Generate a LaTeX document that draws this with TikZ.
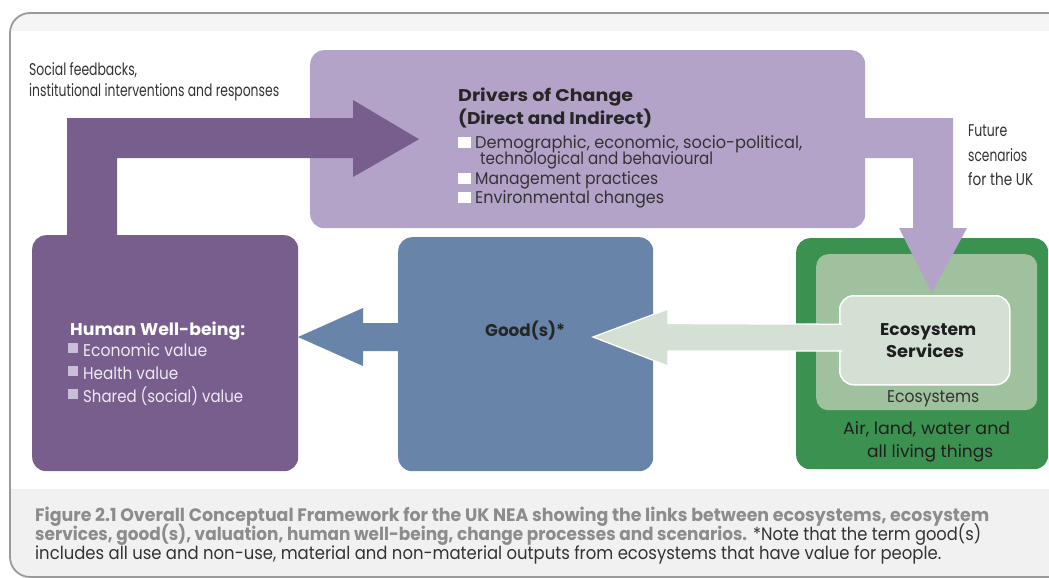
\documentclass[tikz,border=0pt]{standalone}
\usepackage{fontspec}
\setmainfont{Poppins}
\usepackage{graphicx}
\usetikzlibrary{calc}
\newcommand{\fw}[2]{\resizebox{#1pt}{\height}{#2}}
\definecolor{dpurple}{HTML}{775E8D}
\definecolor{lpurple}{HTML}{B4A3C9}
\definecolor{gblue}{HTML}{6884A9}
\definecolor{dgreen}{HTML}{3B9150}
\definecolor{mgreen}{HTML}{9FC19D}
\definecolor{pgreen}{HTML}{D4E0D4}
\definecolor{capbg}{HTML}{F1F1F1}
\definecolor{topband}{HTML}{F5F5F5}
\definecolor{framec}{HTML}{9A9A9A}
\definecolor{capgray}{HTML}{8C8C8C}
\definecolor{txtc}{HTML}{333333}
\definecolor{hwbtxt}{HTML}{EEEAF2}
\definecolor{hwbsq}{HTML}{C9BDD7}
\tikzset{
  box/.style={rounded corners=14, inner sep=0, anchor=north west, draw=none},
  t/.style={inner sep=0, anchor=base west, text=txtc, font=\fontsize{17}{20}\selectfont},
  captxt/.style={inner sep=0, anchor=base west, font=\fontsize{18}{20}\selectfont},
  wsq/.style={fill=white},
  lsq/.style={fill=hwbsq}
}
\begin{document}
\begin{tikzpicture}[x=1pt,y=-1pt]
\useasboundingbox (0,0) rectangle (1049,578);
\fill[white] (0,0) rectangle (1049,578);
% frame
\begin{scope}
\clip[rounded corners=20] (10,13) rectangle (1068,577);
\fill[topband] (10,13) rectangle (1068,31);
\fill[capbg] (10,489) rectangle (1068,577);
\end{scope}
\draw[framec, line width=1.8, rounded corners=20] (10,13) rectangle (1068,577);

% boxes
\node[box, fill=lpurple, minimum width=555, minimum height=178] (drv) at (310,50) {};
\node[box, fill=dpurple, minimum width=266, minimum height=236] (hwb) at (32,235) {};
\node[box, fill=gblue, minimum width=255, minimum height=234] (goods) at (398,237) {};
\node[box, fill=dgreen, minimum width=252, minimum height=231] (eco) at (796,238) {};
\node[box, fill=mgreen, minimum width=221, minimum height=156, rounded corners=12] (ecoin) at (816,254) {};
\node[box, fill=pgreen, draw=white, line width=1.5, minimum width=170, minimum height=89, rounded corners=14] (es) at (839,295) {};

% feedback arrow
\coordinate (fb0) at ($(hwb.north west)+(35,2)$);
\coordinate (fbtip) at ($(drv.west)+(109,0)$);
\fill[dpurple] (fb0) -- (67,118) -- (353,118) -- (353,100) -- (fbtip) -- (353,177) -- (353,158) -- (117,158) -- (117,237) -- cycle;

% future scenarios arrow
\coordinate (fs0) at ($(drv.north east)+(-6,68)$);
\coordinate (fstip) at ($(es.north)+(7,-2)$);
\fill[lpurple] (fs0) -- (953,118) -- (953,228) -- (967,228) -- (fstip) -- (899,228) -- (913,228) -- (913,158) -- (859,158) -- cycle;

% ecosystem services -> goods arrow
\coordinate (g0) at ($(es.west)+(3,-16)$);
\coordinate (gtip) at (593,337);
\fill[pgreen] (g0) -- (668,323.5) -- (668,309) -- (gtip) -- (668,366) -- (668,351) -- (842,351) -- cycle;
\draw[white, line width=1.3, line join=miter] (g0) -- (668,323.5) -- (668,309) -- (gtip) -- (668,366) -- (668,351) -- (842,351);

% goods -> human well-being arrow
\coordinate (b0) at ($(goods.west)+(2,-31)$);
\coordinate (btip) at (298,337);
\fill[gblue] (b0) -- (363,323) -- (363,308) -- (btip) -- (363,366) -- (363,351) -- (400,351) -- cycle;

% texts: social feedbacks
\node[t] (sf1) at (29,75) {\fw{108}{Social feedbacks,}};
\node[t] (sf2) at (29,96) {\fw{250}{institutional interventions and responses}};

% drivers
\node[t, text=black!85, font=\fontsize{17}{20}\selectfont\bfseries] (d1) at (458,101) {\fw{175}{Drivers of Change}};
\node[t, text=black!85, font=\fontsize{17}{20}\selectfont\bfseries] (d2) at (458,124) {\fw{194}{(Direct and Indirect)}};
\fill[wsq] (458,137) rectangle (471,148);
\node[t] (d3) at (475,148) {\fw{327}{Demographic, economic, socio-political,}};
\node[t] (d4) at (480,164) {\fw{233}{technological and behavioural}};
\fill[wsq] (458,173) rectangle (471,184);
\node[t] (d5) at (475,184) {\fw{183}{Management practices}};
\fill[wsq] (458,192) rectangle (471,203);
\node[t] (d6) at (475,203) {\fw{189}{Environmental changes}};

% future scenarios
\node[t] (f1) at (968,136) {\fw{39}{Future}};
\node[t] (f2) at (968,161) {\fw{59}{scenarios}};
\node[t] (f3) at (968,185) {\fw{65}{for the UK}};

% human well-being
\node[t, text=white, font=\fontsize{17}{20}\selectfont\bfseries] (h1) at (70,335) {\fw{175}{Human Well-being:}};
\fill[lsq] (68,343) rectangle (78,353);
\node[t, text=hwbtxt] (h2) at (83,356) {\fw{124}{Economic value}};
\fill[lsq] (68,366) rectangle (78,376);
\node[t, text=hwbtxt] (h3) at (83,379) {\fw{95}{Health value}};
\fill[lsq] (68,389) rectangle (78,399);
\node[t, text=hwbtxt] (h4) at (83,402) {\fw{160}{Shared (social) value}};

% goods
\node[t, text=black!85, font=\fontsize{17}{20}\selectfont\bfseries] (gl) at (485,336) {\fw{80}{Good(s)*}};

% ecosystems
\node[t, text=black!88, font=\fontsize{17}{20}\selectfont\bfseries] (e1) at (880,335) {\fw{96}{Ecosystem}};
\node[t, text=black!88, font=\fontsize{17}{20}\selectfont\bfseries] (e2) at (886,357) {\fw{78}{Services}};
\node[t] (e3) at (887,402) {\fw{92}{Ecosystems}};
\node[t, text=black!88] (e4) at (843,434) {\fw{167}{Air, land, water and}};
\node[t, text=black!88] (e5) at (867,457) {\fw{126}{all living things}};

% caption
\node[captxt, text=capgray, font=\fontsize{18}{20}\selectfont\bfseries] (c1) at (35,521) {\fw{954}{Figure 2.1 Overall Conceptual Framework for the UK NEA showing the links between ecosystems, ecosystem}};
\node[captxt, text=capgray, font=\fontsize{18}{20}\selectfont\bfseries] (c2) at (35,540) {\fw{712}{services, good(s), valuation, human well-being, change processes and scenarios.}};
\node[captxt, text=txtc] (c3) at (753,540) {\fw{228}{*Note that the term good(s)}};
\node[captxt, text=txtc] (c4) at (35,559) {\fw{906}{includes all use and non-use, material and non-material outputs from ecosystems that have value for people.}};
\end{tikzpicture}
\end{document}
